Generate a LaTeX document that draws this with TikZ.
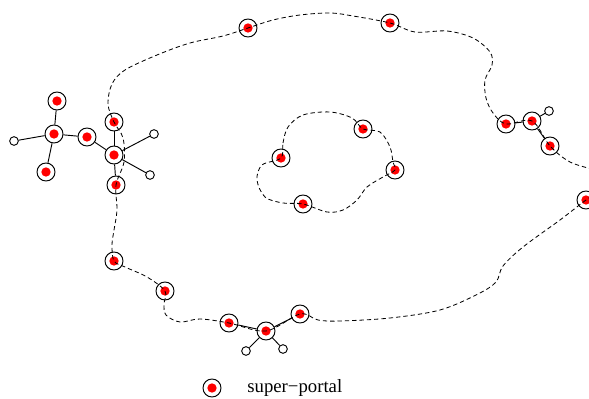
\documentclass[tikz,border=0pt]{standalone}
\usepackage{fontspec}
\setmainfont{Liberation Serif}
\usetikzlibrary{positioning}

\begin{document}
\begin{tikzpicture}[x=0.3mm, y=-0.3mm, line width=0.8pt]
  % Styles
  \tikzstyle{portal}=[draw, circle, minimum size=5.4mm, inner sep=0pt, path picture={\fill[red] (path picture bounding box.center) circle (1.4mm);}]
  \tikzstyle{stub}=[draw, circle, fill=white, minimum size=2.6mm, inner sep=0pt]
  \tikzstyle{route}=[dash pattern=on 1.3mm off 0.9mm, line width=0.7pt]
  \tikzstyle{lab}=[font=\fontsize{16}{18}\selectfont]

  \useasboundingbox (0,0) rectangle (589,399);
  \clip (0,0) rectangle (589,399);

  % Left cluster
  \node[portal] (l_top) at (57,101) {};
  \node[portal] (l_hub) at (54,134) {};
  \node[portal] (l_bot) at (46,172) {};
  \node[stub] (l_end) at (14,141) {};
  \node[portal] (l_mid) at (87,137) {};
  \node[portal] (m_top) at (114,122) {};
  \node[portal] (m_hub) at (114,155) {};
  \node[portal] (m_bot) at (116,185) {};
  \node[stub] (m_end1) at (154,134) {};
  \node[stub] (m_end2) at (150,175) {};

  \draw (l_hub) -- (l_top);
  \draw (l_hub) -- (l_bot);
  \draw (l_hub) -- (l_end);
  \draw (l_hub) -- (l_mid);
  \draw (l_mid) -- (m_hub);
  \draw (m_hub) -- (m_top);
  \draw (m_hub) -- (m_bot);
  \draw (m_hub) -- (m_end1);
  \draw (m_hub) -- (m_end2);

  % Top and right of the outer ring
  \node[portal] (t_1) at (248,28) {};
  \node[portal] (t_2) at (390,23) {};
  \node[portal] (r_1) at (506,124) {};
  \node[portal] (r_2) at (532,121) {};
  \node[portal] (r_3) at (550,146) {};
  \node[stub] (r_end) at (549,111) {};
  \node[portal] (r_4) at (586,200) {};

  \draw (r_1) -- (r_2);
  \draw (r_2) -- (r_3);
  \draw (r_2) -- (r_end);

  % Bottom cluster
  \node[portal] (b_left) at (229,323) {};
  \node[portal] (b_hub) at (266,331) {};
  \node[portal] (b_right) at (300,314) {};
  \node[stub] (b_end1) at (246,351) {};
  \node[stub] (b_end2) at (283,349) {};

  \draw (b_hub) -- (b_left);
  \draw (b_hub) -- (b_right);
  \draw (b_hub) -- (b_end1);
  \draw (b_hub) -- (b_end2);

  \node[portal] (s_1) at (165,291) {};
  \node[portal] (s_2) at (114,261) {};

  % Inner ring
  \node[portal] (i_1) at (281,158) {};
  \node[portal] (i_2) at (363,129) {};
  \node[portal] (i_3) at (395,170) {};
  \node[portal] (i_4) at (303,204) {};

  % Outer route
  \draw[route] plot[smooth cycle, tension=0.55] coordinates {
    (m_top.center) (108,104) (112,84) (125,70) (157,55) (190,43) (223,36)
    (t_1.center) (273,20) (300,15) (330,13) (353,16)
    (t_2.center) (415,32) (447,31) (473,38) (490,52) (492,65) (485,80) (486,98) (493,113)
    (r_1.center) (r_2.center) (r_3.center) (570,162) (598,172) (606,186)
    (r_4.center) (560,220) (523,247) (503,266) (496,282) (478,294) (440,310) (390,318) (340,321) (318,320)
    (b_right.center) (b_hub.center) (b_left.center) (200,319) (180,322) (166,315) (164,304)
    (s_1.center) (147,277) (125,267)
    (s_2.center) (112,245) (114,230) (117,210)
    (m_bot.center) (124,162) (123,138)};

  % Inner route
  \draw[route] plot[smooth cycle, tension=0.55] coordinates {
    (i_1.center) (283,143) (288,127) (303,115) (330,112) (352,118)
    (i_2.center) (380,132) (390,147) (393,162)
    (i_3.center) (383,177) (367,187) (357,200) (343,210) (327,212)
    (i_4.center) (283,203) (265,197) (257,180) (262,165)};

  % Legend
  \node[portal] (key) at (212,388) {};
  \node[lab, anchor=base west] (key_text) at (243,393) {super−portal};
\end{tikzpicture}
\end{document}
